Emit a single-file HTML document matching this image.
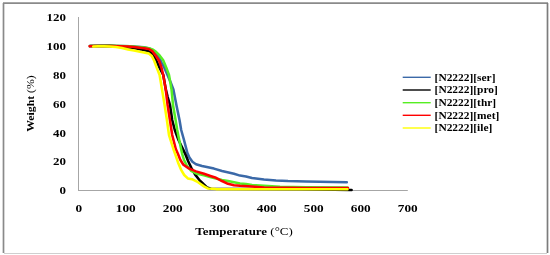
<!DOCTYPE html>
<html><head><meta charset="utf-8">
<style>
html,body{margin:0;padding:0;background:#fff;}
body{width:550px;height:255px;overflow:hidden;position:relative;}
svg{position:absolute;left:0;top:0;display:block;filter:blur(0.3px);}
text{font-family:"Liberation Serif",serif;font-weight:bold;fill:#000;}
</style></head><body>
<svg width="550" height="255" viewBox="0 0 550 255">
<rect x="0" y="0" width="550" height="255" fill="#fff"/>
<!-- frame -->
<line x1="3.5" y1="3" x2="3.5" y2="253" stroke="#8a8a8a" stroke-width="1.7"/>
<line x1="3" y1="3.2" x2="548" y2="3.2" stroke="#8a8a8a" stroke-width="1.7"/>
<line x1="547.5" y1="3" x2="547.5" y2="253" stroke="#7c7c7c" stroke-width="1.7"/>
<line x1="4" y1="253.5" x2="547" y2="253.5" stroke="#cfcfcf" stroke-width="1"/>
<!-- axes -->
<line x1="78.5" y1="17" x2="78.5" y2="190.5" stroke="#a6a6a6" stroke-width="1"/>
<line x1="78" y1="190.5" x2="407.8" y2="190.5" stroke="#a6a6a6" stroke-width="1"/>
<!-- y labels -->
<g font-size="10.8" text-anchor="end">
<text transform="translate(65.9,21.1) scale(1.2,1)">120</text>
<text transform="translate(65.9,50.0) scale(1.2,1)">100</text>
<text transform="translate(65.9,78.8) scale(1.2,1)">80</text>
<text transform="translate(65.9,107.7) scale(1.2,1)">60</text>
<text transform="translate(65.9,136.6) scale(1.2,1)">40</text>
<text transform="translate(65.9,165.4) scale(1.2,1)">20</text>
<text transform="translate(65.9,194.2) scale(1.2,1)">0</text>
</g>
<g font-size="10.8" text-anchor="middle">
<text transform="translate(78.7,212) scale(1.23,1)">0</text>
<text transform="translate(125.7,212) scale(1.23,1)">100</text>
<text transform="translate(172.7,212) scale(1.23,1)">200</text>
<text transform="translate(219.7,212) scale(1.23,1)">300</text>
<text transform="translate(266.7,212) scale(1.23,1)">400</text>
<text transform="translate(313.7,212) scale(1.23,1)">500</text>
<text transform="translate(360.7,212) scale(1.23,1)">600</text>
<text transform="translate(407.7,212) scale(1.23,1)">700</text>
</g>
<text transform="translate(244,235) scale(1.2,1)" font-size="10.8" text-anchor="middle">Temperature <tspan font-weight="normal">(°C)</tspan></text>
<text transform="translate(33.6,103.5) rotate(-90) scale(1.09,1)" font-size="10.8" text-anchor="middle">Weight <tspan font-weight="normal">(%)</tspan></text>
<!-- curves -->
<g fill="none" stroke-width="2.55" stroke-linejoin="round" stroke-linecap="round">
<polyline stroke="#3b69a8" points="90,46.1 110,45.8 130,46.2 144,47.3 150,48.8 154,51 158,55.5 161.8,63 164.2,67.4 167.5,75 170.5,82 173.4,89.4 176.4,105 179.5,120 181.2,130 184,140 186.5,149.6 187.3,152.8 189.4,157.6 192.4,161.8 196,164.2 202,166 208,167.2 214,168.6 222,171 234,173.8 240,175.6 246,176.4 252,178 264,179.4 276,180.4 288,181 306,181.5 346.8,182.2"/>
<polyline stroke="#000000" points="90,46.1 110,45.8 120,46.4 132,47.8 144,50 149.4,51.5 153,54.8 156.2,60.2 159.4,67.4 163.3,75 165.8,89.4 167.7,97 170,105 172.2,120 174.8,130 178.5,140 183.2,149.6 185.8,155.2 188.2,161.2 191.2,167.6 195,174.4 199.2,179.8 203.4,184 207,187.4 211,188.7 300,189.3 351.6,189.9"/>
<polyline stroke="#55ee22" points="90,46.1 110,45.8 130,46.2 144,47.5 149,48.3 152.4,49.4 156,51.8 159.6,55.4 163.2,60.2 166.2,67.4 169,75 171.5,89.4 173,105 175.6,120 177.2,130 179.2,140 181.2,149.6 182.2,154 184,160 187,166 191.2,170.8 196,173.4 204,175.3 210,177 216,178.6 222,180 228,181 234,182.2 240,183.4 246,183.9 252,185 264,185.8 280,186.7 306,187.2 347.5,187.4"/>
<polyline stroke="#ff0000" points="89.6,46.3 95,46.1 110,46 120,46.2 128,46.5 134,47.1 140,47.7 144,48.2 148.8,49 152.4,51.2 156,56 159.2,61 161.4,67.4 163.2,75 165.7,89.4 167.6,105 169.9,120 172.2,135 175.8,149 178,154 180.4,160 183.4,164.8 188.8,168.4 196,171.4 204,173.8 210.4,176 216,177.8 222,181 228,183.8 234,185.2 240,185.8 252,186.6 264,187.5 306,187.9 348,188"/>
<polyline stroke="#ffff00" points="93.2,46.5 98,46.2 104,46.2 110,46.4 116,47 122,48.1 128,49.4 134,50.6 140,51.8 144,52.4 148.8,53.6 151.8,56 154.2,60.8 156.6,67.4 159.6,75 162,89.4 164.6,105 166.9,120 169,135 173.3,148.7 175.6,155.2 178,162.4 181,169.6 184.2,175 187.8,178.4 192,179.2 198,182.2 204,186.4 208.2,188.6 216,189.1 347.5,189.3"/>
</g>
<!-- legend -->
<g stroke-width="1.4">
<line x1="402.7" y1="77.3" x2="430.7" y2="77.3" stroke="#3b69a8"/>
<line x1="402.7" y1="90" x2="430.7" y2="90" stroke="#000"/>
<line x1="402.7" y1="102.7" x2="430.7" y2="102.7" stroke="#55ee22"/>
<line x1="402.7" y1="115.3" x2="430.7" y2="115.3" stroke="#ff0000"/>
<line x1="402.7" y1="128" x2="430.7" y2="128" stroke="#ffff00"/>
</g>
<g font-size="9.6">
<text transform="translate(434.6,80.5) scale(1.19,1)">[N2222][ser]</text>
<text transform="translate(434.6,93.2) scale(1.19,1)">[N2222][pro]</text>
<text transform="translate(434.6,105.9) scale(1.19,1)">[N2222][thr]</text>
<text transform="translate(434.6,118.5) scale(1.19,1)">[N2222][met]</text>
<text transform="translate(434.6,131.2) scale(1.19,1)">[N2222][ile]</text>
</g>
</svg>
</body></html>
